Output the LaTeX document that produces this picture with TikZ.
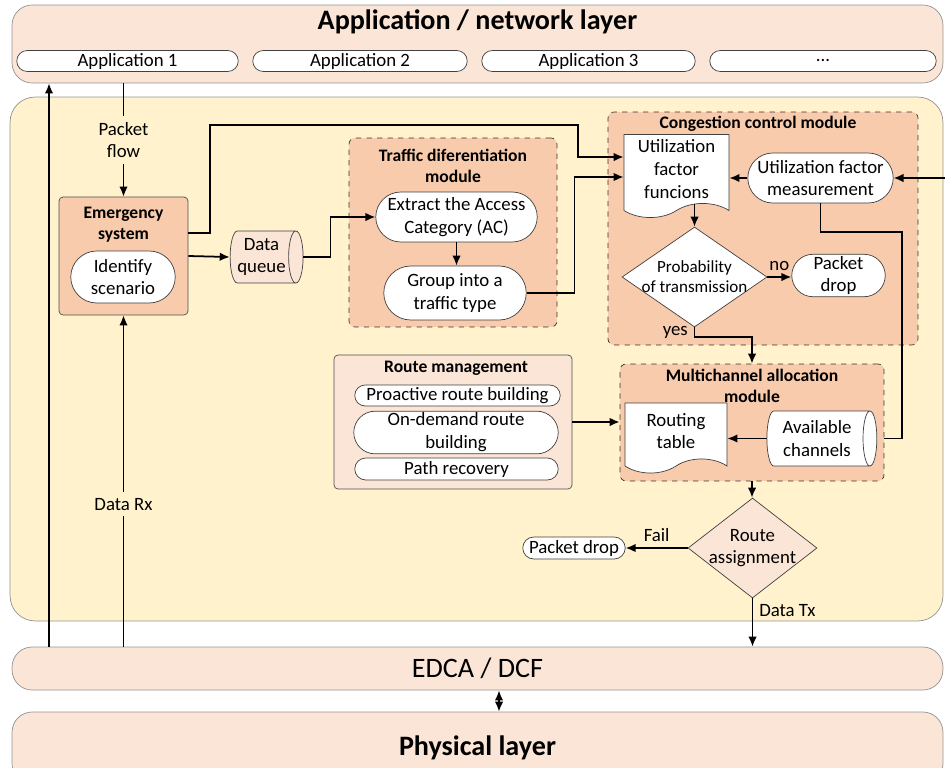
\documentclass[tikz,border=0pt]{standalone}
\usepackage{fontspec}
\setmainfont{Carlito}
\usetikzlibrary{positioning, arrows.meta, calc}
\usetikzlibrary{shapes.geometric, shapes.misc, shapes.symbols}
\definecolor{peach}{HTML}{FBE5D6}
\definecolor{salmon}{HTML}{F8CBAD}
\definecolor{sand}{HTML}{FFF2CC}
\definecolor{edgegray}{HTML}{939393}
\tikzset{
>={Latex[length=2mm,width=1.7mm]}, % small filled arrow heads
layer/.style={draw=edgegray, fill=peach, rounded corners=0.4cm, minimum width=18.62cm}, % protocol layers
module/.style={draw=black!80, dashed, fill=salmon, rounded corners=0.12cm}, % dashed module frames
block/.style={draw=black!70, fill=salmon, rounded corners=0.08cm}, % solid frames
pill/.style={rounded rectangle, draw=black!75, fill=white, align=center, inner sep=1pt},
docu/.style={tape, tape bend top=none, tape bend bottom=in and out, tape bend height=8pt,
  draw=black!75, fill=white, align=center, inner sep=1pt}, % document symbol
store/.style={cylinder, shape aspect=0.35, draw=black!75, align=center, inner sep=1pt},
decision/.style={diamond, draw=black!75, fill=white, inner sep=0pt},
title/.style={font=\bfseries, align=center},
bigtext/.style={font=\fontsize{16}{19}\selectfont},
bigtitle/.style={font=\fontsize{16}{19}\selectfont\bfseries},
flow/.style={->, line width=1pt},
}

\begin{document}
\begin{tikzpicture}[x=0.02cm, y=-0.02cm, font=\fontsize{10.7}{13}\selectfont]
  \useasboundingbox (0,0) rectangle (945,767);

  % layers
  \node[layer, minimum height=1.56cm] (net) at (477.5,44) {};
  \node[bigtitle] at (477.5,22) {Application / network layer};
  \node[pill, minimum width=4.5cm, minimum height=0.42cm] (app1) at (127.5,61) {Application 1};
  \node[pill, minimum width=4.36cm, minimum height=0.42cm] (app2) at (360,61) {Application 2};
  \node[pill, minimum width=4.34cm, minimum height=0.42cm] (app3) at (588.5,61) {Application 3};
  \node[pill, minimum width=4.6cm, minimum height=0.42cm] (appn) at (823,61) {...};
  \node[draw=edgegray, fill=sand, rounded corners=0.5cm, minimum width=18.66cm, minimum height=10.48cm] (mac) at (476.5,359) {};
  \node[layer, bigtext, minimum height=0.86cm] (edca) at (477.5,668.5) {EDCA / DCF};
  \node[layer, bigtitle, minimum height=1.44cm] (phy) at (477.5,748) {Physical layer};

  % emergency system and queue
  \node[block, minimum width=2.58cm, minimum height=2.36cm] (emg) at (123.5,256) {};
  \node[title] at (123.5,224.5) {Emergency\\system};
  \node[pill, minimum width=2.16cm, minimum height=1.04cm] (idsc) at (123,277) {Identify\\scenario};
  \node[store, fill=peach, minimum height=1.46cm, minimum width=1.04cm] (queue) at (261.5,257) {Data\\queue};

  % traffic differentiation
  \node[module, minimum width=4.16cm, minimum height=3.78cm] (tdm) at (453,232.5) {};
  \node[title] at (453,165.5) {Traffic diferentiation\\module};
  \node[pill, minimum width=3.3cm, minimum height=1cm] (acx) at (456.5,217) {Extract the Access\\Category (AC)};
  \node[pill, minimum width=2.92cm, minimum height=1.08cm] (grp) at (455,293) {Group into a\\traffic type};

  % congestion control
  \node[module, minimum width=6.2cm, minimum height=4.66cm] (ccm) at (763,228.5) {};
  \node[title] at (758,124) {Congestion control module};
  \node[docu, minimum width=2.1cm, minimum height=1.66cm] (ufun) at (676.5,169) {Utilization\\factor\\funcions};
  \node[pill, minimum width=2.9cm, minimum height=1cm] (umeas) at (820.5,178) {Utilization factor\\measurement};
  \node[decision, minimum width=2.9cm, minimum height=2cm,
    label={[font=\fontsize{9.7}{11.5}\selectfont, align=center]center:Probability\\of transmission}] (prob) at (694.5,277) {};
  \node[pill, minimum width=1.94cm, minimum height=0.82cm] (drop) at (838.5,275.5) {Packet\\drop};

  % multichannel allocation
  \node[module, minimum width=5.28cm, minimum height=2.34cm] (mca) at (752,422.5) {};
  \node[title] at (752,385.5) {Multichannel allocation\\module};
  \node[docu, minimum width=2.04cm, minimum height=1.4cm] (rtab) at (676,431) {Routing\\table};
  \node[store, fill=white, minimum height=2.2cm, minimum width=1.1cm] (chan) at (817,438.5) {Available\\channels};

  % route management
  \node[block, fill=peach, minimum width=4.76cm, minimum height=2.68cm] (rmg) at (453,422) {};
  \node[title] at (456,368) {Route management};
  \node[pill, minimum width=4.18cm, minimum height=0.42cm] (pro) at (457.5,395.5) {Proactive route building};
  \node[pill, minimum width=4.16cm, minimum height=0.82cm] (ond) at (456,432.5) {On-demand route\\building};
  \node[pill, minimum width=4.14cm, minimum height=0.44cm] (prec) at (456.5,469) {Path recovery};

  \node[decision, fill=peach, minimum width=2.58cm, minimum height=2cm,
    label={[align=center]center:Route\\assignment}] (rass) at (752.5,548) {};
  \node[pill, minimum width=2.12cm, minimum height=0.44cm] (drop2) at (574,548) {Packet drop};

  % connectors
  \coordinate (ret) at (49,0);
  \coordinate (bypass) at (210,125);
  \coordinate (feed) at (945,178);
  \coordinate (loop) at (902,232);
  \draw[flow] (edca.north -| ret) -- (net.south -| ret);
  \draw[flow] (net.south -| emg.north) -- node[fill=sand, align=center] {Packet\\flow} (emg.north);
  \draw[flow] (edca.north -| emg.south) -- node[pos=0.43, fill=sand] {Data Rx} (emg.south);
  \draw[flow] (emg.east) -- (queue.west);
  \draw[flow] ([yshift=0.46cm]emg.east) -| (bypass) -| ([xshift=-0.92cm, yshift=0.24cm]ufun.west) -- ([yshift=0.24cm]ufun.west);
  \draw[flow] (queue.east) -- ++(27,0) |- (acx.west);
  \draw[flow] (acx.south) -- (acx.south |- grp.north);
  \draw[flow] (grp.east) -- ++(48,0) |- ([yshift=-0.16cm]ufun.west);
  \draw[flow] (umeas.west) -- (umeas.west -| ufun.east);
  \draw[flow] (feed) -- (umeas.east);
  \draw[flow] (prob.north |- ufun.south) -- (prob.north);
  \draw[flow] (prob.east) -- node[above] {no} (prob.east -| drop.west);
  \draw[flow] (prob.south) -- node[left] {yes} ++(0,10) -| (mca.north);
  \draw[line width=1pt] (umeas.south) |- (loop) |- (mca.east |- chan);
  \draw[flow] (rmg.east) -- (rmg.east -| mca.west);
  \draw[flow] (chan.west) -- (chan.west -| rtab.east);
  \draw[flow] (mca.south) -- (mca.south |- rass.north);
  \draw[flow] (rass.west) -- node[above] {Fail} (drop2.east);
  \draw[flow] (rass.south) -- node[pos=0.25, right] {Data Tx} (rass.south |- edca.north);
  \draw[<->, line width=1pt] ([xshift=0.43cm]edca.south) -- ([xshift=0.43cm]phy.north);
\end{tikzpicture}
\end{document}
